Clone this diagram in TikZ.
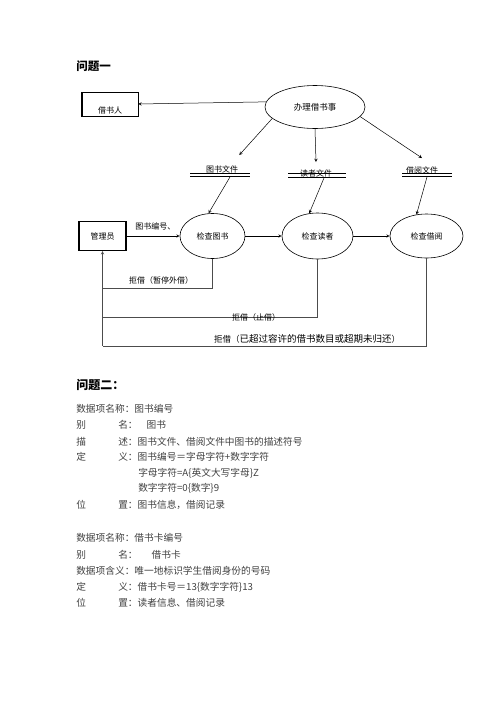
\documentclass[tikz,border=0pt]{standalone}
\usepackage{fontspec}
\setmainfont{Noto Sans CJK SC}
\usetikzlibrary{shapes.geometric}
\tikzset{
	proc/.style={draw, ellipse, inner sep=0pt, line width=0.6pt, font=\fontsize{8}{9}\selectfont},
	lbl/.style={inner sep=1pt, font=\fontsize{8}{9}\selectfont},
	body/.style={anchor=west, inner sep=0pt, text=black!75, font=\fontsize{9.7}{11}\selectfont},
}
\begin{document}
\begin{tikzpicture}[>=stealth, x=1pt, y=-1pt, line width=0.5pt]
			\useasboundingbox (0,0) rectangle (496,702);
			\node[anchor=west, inner sep=0pt, font=\fontsize{11.5}{13}\selectfont\bfseries] (q1) at (76,66) {问题一};
			\node[draw, minimum width=56pt, minimum height=24pt, inner sep=0pt] (jsr) at (110,104) {};
			\node[lbl] (jsrt) at (110,110) {借书人};
			\draw[line width=1.2pt] (jsr.north west) -- (jsr.south west) -- (jsr.south east);
			\node[proc, minimum width=100pt, minimum height=43pt, font=\fontsize{8.5}{9}\selectfont] (bl) at (315,107) {办理借书事};
			\draw[->] (bl.174) -- (jsr.east);
			\node[lbl] (tswj) at (222,169) {图书文件};
			\node[lbl] (dzwj) at (316,173) {读者文件};
			\node[lbl] (jywj) at (422,170) {借阅文件};
			\draw (190,173) -- (250,173) (190,176) -- (250,176);
			\draw (288,173) -- (346,173) (288,177) -- (346,177);
			\draw (402,173) -- (452,173) (402,176) -- (452,176);
			\draw[->] (bl.195) -- ([yshift=9pt]tswj.north east);
			\draw[->] (bl.south) -- ([yshift=6pt]dzwj.north);
			\draw[->] (bl.-12) -- ([yshift=7pt]jywj.north);
			\node[draw, line width=1.2pt, minimum width=47pt, minimum height=29pt, font=\fontsize{8}{9}\selectfont] (gly) at (102.5,236) {管理员};
			\node[proc, minimum width=65pt, minimum height=45pt] (jcts) at (212.5,236) {检查图书};
			\node[proc, minimum width=71pt, minimum height=46pt] (jcdz) at (317.5,236) {检查读者};
			\node[proc, minimum width=73pt, minimum height=44pt] (jcjy) at (426.5,236) {检查借阅};
			\draw[->] ([xshift=8pt,yshift=-3pt]tswj.south) -- (jcts.100);
			\draw[->] ([xshift=8pt]dzwj.south) -- (jcdz.110);
			\draw[->] ([xshift=5pt,yshift=-2pt]jywj.south) -- (jcjy.115);
			\draw[->] (gly) -- (jcts);
			\draw[->] (jcts) -- (jcdz);
			\draw[->] (jcdz) -- (jcjy);
			\node[lbl, anchor=west] (bh) at (134,226) {图书编号、};
			\coordinate (r1) at (102.5,288);
			\coordinate (r2) at (102.5,317);
			\coordinate (r3) at (102.5,346);
			\draw[black!70] (jcts.south) |- (r1);
			\draw[black!70] (jcdz.south) |- (r2);
			\draw[black!70] (jcjy.south) |- (r3);
			\draw[->, black!70] (r3) -- (gly.south);
			\node[lbl] (j1) at (161,280) {拒借（暂停外借）};
			\node[lbl] (j2) at (256,317) {拒借（止借）};
			\node[lbl, font=\fontsize{8.5}{9}\selectfont] (j3) at (307,339) {拒借（{\fontsize{9.5}{10}\selectfont 已超过容许的借书数目或超期未归还}）};
			\node[anchor=west, inner sep=0pt, font=\fontsize{12}{13}\selectfont\bfseries] (q2) at (76,385) {问题二：};
			\node[body] (a1) at (76,409) {数据项名称：图书编号};
			\node[body] (a2) at (76,425) {\makebox[42pt][l]{别}名：\hspace{9pt}图书};
			\node[body] (a3) at (76,442) {\makebox[42pt][l]{描}述：图书文件、借阅文件中图书的描述符号};
			\node[body] (a4) at (76,457) {\makebox[42pt][l]{定}义：图书编号＝字母字符+数字字符};
			\node[body] (a5) at (138,473) {字母字符=A\{英文大写字母\}Z};
			\node[body] (a6) at (138,488) {数字字符=0\{数字\}9};
			\node[body] (a7) at (76,505) {\makebox[42pt][l]{位}置：图书信息，借阅记录};
			\node[body] (b1) at (76,538) {数据项名称：借书卡编号};
			\node[body] (b2) at (76,555) {\makebox[42pt][l]{别}名：\hspace{14pt}借书卡};
			\node[body] (b3) at (76,571) {数据项含义：唯一地标识学生借阅身份的号码};
			\node[body] (b4) at (76,587) {\makebox[42pt][l]{定}义：借书卡号＝13\{数字字符\}13};
			\node[body] (b5) at (76,603) {\makebox[42pt][l]{位}置：读者信息、借阅记录};
\end{tikzpicture}
\end{document}
